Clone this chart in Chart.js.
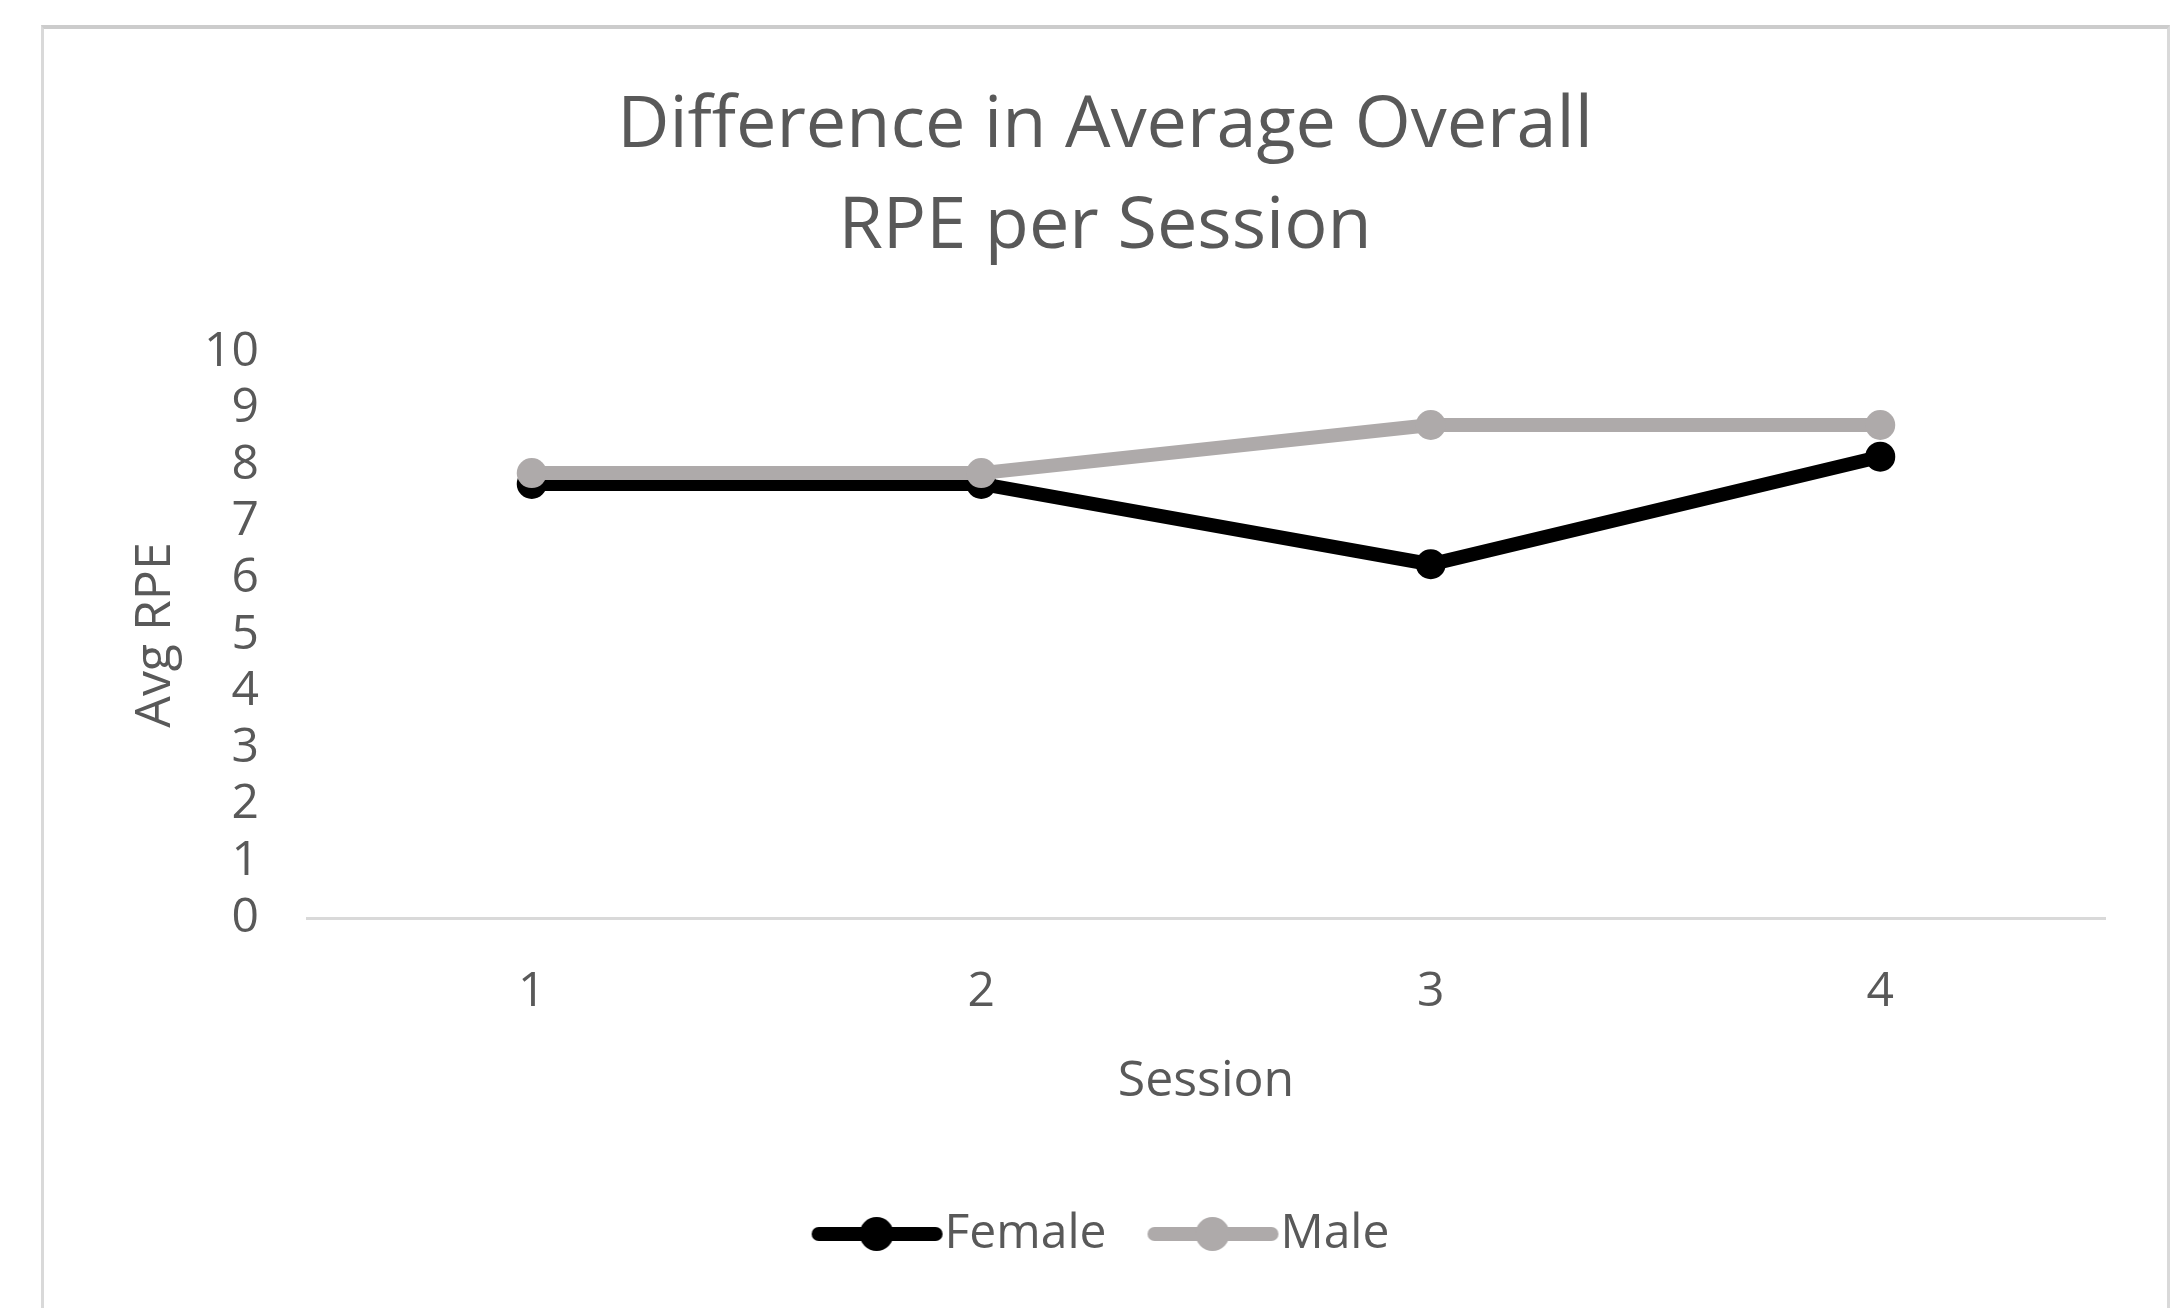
<!DOCTYPE html>
<html>
<head>
<meta charset="utf-8">
<title>Difference in Average Overall RPE per Session</title>
<script src="https://cdn.jsdelivr.net/npm/chart.js@4.4.1/dist/chart.umd.min.js"></script>
<style>
  html, body { margin: 0; padding: 0; background: #fff; }
  body { width: 2171px; height: 1308px; position: relative; overflow: hidden; }
  #frame {
    position: absolute; left: 41px; top: 25px; width: 2129px; height: 1320px;
    border-left: 3px solid #d9d9d9; border-right: 3px solid #d9d9d9; border-top: 4px solid #cccccc;
    box-sizing: border-box;
  }
  #wrap { position: absolute; left: 0; top: 0; width: 2171px; height: 1308px; }
</style>
</head>
<body>
<div id="frame"></div>
<div id="wrap"><canvas id="rpeChart" width="2171" height="1308"></canvas></div>
<script>
    // data
    const sessions = ['1', '2', '3', '4'];
    const femaleRpe = [7.67, 7.67, 6.25, 8.15];
    const maleRpe = [7.86, 7.86, 8.71, 8.71];
    const yTicks = [0, 1, 2, 3, 4, 5, 6, 7, 8, 9, 10];

    const FONT = "'Open Sans', 'DejaVu Sans', sans-serif";
    const TEXT = '#595959';
    const FEMALE = '#000000';
    const MALE = '#aeaaaa';

    // little line + dot used as the legend marker
    function legendSwatch(color) {
        const c = document.createElement('canvas');
        c.width = 200;
        c.height = 40;
        const g = c.getContext('2d');
        g.strokeStyle = color;
        g.lineWidth = 14;
        g.lineCap = 'round';
        g.beginPath();
        g.moveTo(48, 20);
        g.lineTo(165, 20);
        g.stroke();
        g.fillStyle = color;
        g.beginPath();
        g.arc(106, 20, 17, 0, Math.PI * 2);
        g.fill();
        return c;
    }

    const swatches = [legendSwatch(FEMALE), legendSwatch(MALE)];

    const ctx = document.getElementById('rpeChart').getContext('2d');
    const rpeChart = new Chart(ctx, {
        type: 'line',
        data: {
            labels: sessions,
            datasets: [{
                label: 'Female',
                data: femaleRpe,
                yAxisID: 'y',
                order: 1,
                borderColor: FEMALE,
                backgroundColor: FEMALE,
                borderWidth: 14,
                pointRadius: 15,
                pointHoverRadius: 15,
                pointBackgroundColor: FEMALE,
                pointBorderColor: FEMALE,
                pointBorderWidth: 0,
                tension: 0
            }, {
                label: 'Male',
                data: maleRpe,
                yAxisID: 'y',
                order: 0,
                borderColor: MALE,
                backgroundColor: MALE,
                borderWidth: 14,
                pointRadius: 15,
                pointHoverRadius: 15,
                pointBackgroundColor: MALE,
                pointBorderColor: MALE,
                pointBorderWidth: 0,
                tension: 0
            }]
        },
        options: {
            responsive: false,
            animation: false,
            devicePixelRatio: 1,
            layout: {
                padding: { left: 41, right: 2, top: 0, bottom: 40 }
            },
            scales: {
                x: {
                    offset: true,
                    grid: { display: false, drawTicks: false },
                    border: { display: true, color: '#d9d9d9', width: 3 },
                    ticks: {
                        color: TEXT,
                        padding: 46,
                        font: { family: FONT, size: 48 }
                    },
                    title: {
                        display: true,
                        text: 'Session',
                        color: TEXT,
                        font: { family: FONT, size: 50 },
                        padding: { top: 0, bottom: 48 }
                    },
                    afterFit: function (scale) {
                        scale.height = 242;
                    }
                },
                y: {
                    min: 0,
                    max: 10,
                    grid: { display: false, drawTicks: false },
                    border: { display: false },
                    afterBuildTicks: function (scale) {
                        scale.ticks = yTicks.map(v => ({ value: v }));
                    },
                    ticks: {
                        color: TEXT,
                        padding: 48,
                        autoSkip: false,
                        font: { family: FONT, size: 48 }
                    },
                    title: {
                        display: true,
                        text: 'Avg RPE',
                        color: TEXT,
                        font: { family: FONT, size: 50 },
                        padding: { top: 85, bottom: 0 }
                    },
                    afterFit: function (scale) {
                        scale.width = 266;
                    }
                },
                // empty strip on the right so the plot stops where Excel's does
                y2: {
                    position: 'right',
                    display: true,
                    grid: { display: false, drawTicks: false },
                    border: { display: false },
                    ticks: { display: false },
                    afterFit: function (scale) {
                        scale.width = 64;
                    }
                }
            },
            plugins: {
                title: {
                    display: true,
                    text: ['Difference in Average Overall', 'RPE per Session'],
                    color: TEXT,
                    font: { family: FONT, size: 72, weight: 'normal', lineHeight: '101px' },
                    padding: { top: 76, bottom: 74 }
                },
                legend: {
                    position: 'bottom',
                    labels: {
                        color: TEXT,
                        font: { family: FONT, size: 48 },
                        padding: 50,
                        usePointStyle: true,
                        pointStyleWidth: 100,
                        sort: (a, b) => a.datasetIndex - b.datasetIndex,
                        generateLabels: function (chart) {
                            const items = Chart.defaults.plugins.legend.labels.generateLabels(chart);
                            items.forEach(item => {
                                item.pointStyle = swatches[item.datasetIndex];
                            });
                            return items;
                        }
                    }
                },
                tooltip: { enabled: false }
            }
        }
    });
</script>
</body>
</html>
